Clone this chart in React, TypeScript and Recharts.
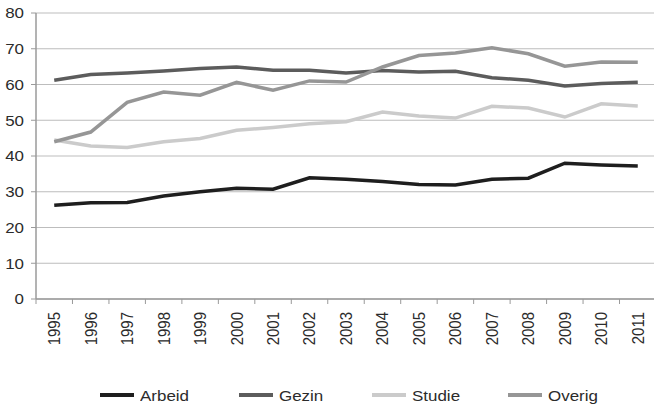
import React from 'react';
import { LineChart, Line, XAxis, YAxis, CartesianGrid, Legend } from 'recharts';

const years = ['1995', '1996', '1997', '1998', '1999', '2000', '2001', '2002', '2003', '2004', '2005', '2006', '2007', '2008', '2009', '2010', '2011'];
const arbeid = [26.2, 26.9, 27.0, 28.8, 30.0, 31.0, 30.7, 33.9, 33.5, 32.9, 32.0, 31.9, 33.5, 33.8, 38.0, 37.5, 37.2];
const gezin = [61.2, 62.8, 63.2, 63.8, 64.5, 64.9, 64.0, 64.0, 63.2, 63.9, 63.5, 63.7, 61.9, 61.2, 59.6, 60.3, 60.6];
const studie = [44.5, 42.8, 42.4, 44.0, 44.9, 47.2, 48.0, 49.0, 49.6, 52.3, 51.2, 50.6, 53.9, 53.4, 50.9, 54.6, 54.0];
const overig = [44.0, 46.7, 55.0, 57.9, 57.0, 60.6, 58.4, 61.0, 60.7, 64.9, 68.1, 68.8, 70.3, 68.6, 65.1, 66.3, 66.2];
const seriesNames = ['Arbeid', 'Gezin', 'Studie', 'Overig'];
const yTicks = [0, 10, 20, 30, 40, 50, 60, 70, 80];

const data = years.map((year, i) => ({
  year,
  Arbeid: arbeid[i],
  Gezin: gezin[i],
  Studie: studie[i],
  Overig: overig[i],
}));

const FONT = '"Liberation Sans", Arial, sans-serif';
const TEXT = '#2b2b2b';
const AXIS = '#9a9a9a';
const BAND = (656 - 36) / 17;
const X_TICK = 5;
const X_MARGIN = 3;

const XTick = (props: any) => {
  const { x, y, payload, index } = props;
  const axisY = y - X_TICK - X_MARGIN;
  const half = BAND / 2;
  return (
    <g>
      <line x1={x - half} x2={x - half} y1={axisY} y2={axisY + 5} stroke={AXIS} strokeWidth={1} />
      {index === years.length - 1 && (
        <line x1={x + half} x2={x + half} y1={axisY} y2={axisY + 5} stroke={AXIS} strokeWidth={1} />
      )}
      <text
        transform={`translate(${x},${axisY + 13}) scale(1.13,1) rotate(-90)`}
        textAnchor="end"
        dy="0.35em"
        fontSize={15}
        fontFamily={FONT}
        fill={TEXT}
      >
        {payload.value}
      </text>
    </g>
  );
};

const YTick = (props: any) => {
  const { x, y, payload } = props;
  return (
    <text
      transform={`translate(${x},${y}) scale(1.13,1)`}
      textAnchor="end"
      dy="0.36em"
      fontSize={15}
      fontFamily={FONT}
      fill={TEXT}
    >
      {payload.value}
    </text>
  );
};

const itemWidths = [139, 133, 136, 120];

const LegendContent = (props: any) => {
  const payload = [...(props.payload || [])].sort(
    (a: any, b: any) => seriesNames.indexOf(a.value) - seriesNames.indexOf(b.value)
  );
  return (
    <div style={{ height: 24, display: 'flex', alignItems: 'center', paddingLeft: 100, fontFamily: FONT }}>
      {payload.map((p: any, i: number) => (
        <div key={p.value} style={{ width: itemWidths[i], display: 'flex', alignItems: 'center', flex: 'none' }}>
          <div style={{ width: 34, height: 4, background: p.color, marginRight: 6, flex: 'none' }} />
          <span style={{ fontSize: 15, color: TEXT, display: 'inline-block', transform: 'scale(1.13,1)', transformOrigin: 'left center', whiteSpace: 'nowrap' }}>
            {p.value}
          </span>
        </div>
      ))}
    </div>
  );
};

export default function App() {
  return (
    <div style={{ position: 'absolute', left: 0, top: 0, width: 654, height: 407, overflow: 'hidden', background: '#fff' }}>
      <LineChart width={656} height={407} data={data} margin={{ top: 13, right: 0, left: 0, bottom: 0 }}>
        <CartesianGrid vertical={false} stroke="#bdbdbd" strokeWidth={1.2} />
        <XAxis
          dataKey="year"
          interval={0}
          height={84}
          padding={{ left: BAND / 2, right: BAND / 2 }}
          tickLine={false}
          tickSize={X_TICK}
          tickMargin={X_MARGIN}
          tick={<XTick />}
          axisLine={{ stroke: AXIS, strokeWidth: 1.5 }}
        />
        <YAxis
          domain={[0, 80]}
          ticks={yTicks}
          width={36}
          tickSize={5}
          tickMargin={7}
          tick={<YTick />}
          tickLine={{ stroke: AXIS, strokeWidth: 1 }}
          axisLine={{ stroke: AXIS, strokeWidth: 1.5 }}
        />
        <Legend verticalAlign="bottom" content={<LegendContent />} />
        <Line type="linear" dataKey="Arbeid" stroke="#1e1e1e" strokeWidth={3.5} dot={false} isAnimationActive={false} />
        <Line type="linear" dataKey="Gezin" stroke="#5c5c5c" strokeWidth={3.5} dot={false} isAnimationActive={false} />
        <Line type="linear" dataKey="Studie" stroke="#cbcbcb" strokeWidth={3.5} dot={false} isAnimationActive={false} />
        <Line type="linear" dataKey="Overig" stroke="#969696" strokeWidth={3.5} dot={false} isAnimationActive={false} />
      </LineChart>
    </div>
  );
}
